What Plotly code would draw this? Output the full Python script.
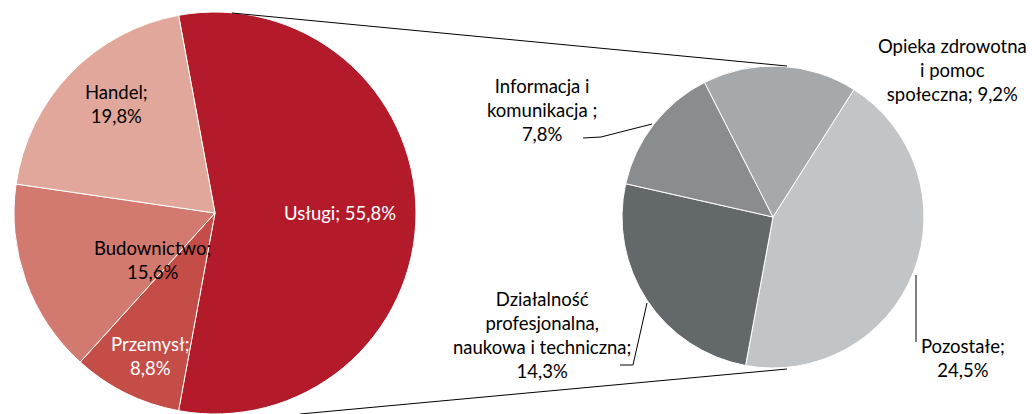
import plotly.graph_objects as go

# Structure of employment: main sectors and the breakdown of services
main_labels = ["Usługi", "Przemysł", "Budownictwo", "Handel"]
main_values = [55.8, 8.8, 15.6, 19.8]
main_colors = ["#B31B2B", "#C44D48", "#D27A6F", "#E0A79A"]

sub_labels = ["Pozostałe", "Działalność profesjonalna, naukowa i techniczna",
              "Informacja i komunikacja", "Opieka zdrowotna i pomoc społeczna"]
sub_values = [24.5, 14.3, 7.8, 9.2]
sub_colors = ["#C2C5C8", "#63686B", "#898D90", "#A6A9AC"]

# how each label is broken into lines ({v} is the value)
main_text = ["Usługi; {v}", "Przemysł;<br>{v}", "Budownictwo;<br>{v}", "Handel;<br>{v}"]
sub_text = ["Pozostałe;<br>{v}", "Działalność<br>profesjonalna,<br>naukowa i techniczna;<br>{v}",
            "Informacja i<br>komunikacja ;<br>{v}", "Opieka zdrowotna<br>i pomoc<br>społeczna; {v}"]

W, H = 1032, 414
FONT = "Lato"
FSIZE = 18.5


def px(x):
    return x / W


def py(y):
    return 1 - y / H


def fmt(v):
    return f"{v:.1f}%".replace(".", ",")


fig = go.Figure()

# left pie: the Usługi slice is centred on the east direction
main_rot = 90 - main_values[0] / sum(main_values) * 180
fig.add_trace(go.Pie(
    labels=main_labels, values=main_values, sort=False, direction="clockwise",
    rotation=main_rot, textinfo="none", hoverinfo="label+value",
    marker=dict(colors=main_colors, line=dict(color="white", width=1)),
    domain=dict(x=[px(14), px(416)], y=[0, 402 / H]),
    showlegend=False,
))

# right pie: breakdown of Usługi
fig.add_trace(go.Pie(
    labels=sub_labels, values=sub_values, sort=False, direction="clockwise",
    rotation=32.4, textinfo="none", hoverinfo="label+value",
    marker=dict(colors=sub_colors, line=dict(color="white", width=1)),
    domain=dict(x=[px(622), px(924)], y=[py(368), py(66)]),
    showlegend=False,
))

# label placement (pixel centres) and colours
main_pos = [(340, 213), (150, 356), (152, 260), (116, 104)]
main_font_col = ["white", "white", "black", "black"]
sub_pos = [(963, 358), (542, 335), (542, 110), (952, 70)]

for tpl, v, (x, y), c in zip(main_text, main_values, main_pos, main_font_col):
    fig.add_annotation(x=px(x), y=py(y), xref="paper", yref="paper",
                       xanchor="center", yanchor="middle",
                       text=tpl.format(v=fmt(v)), showarrow=False,
                       font=dict(family=FONT, size=FSIZE, color=c), align="center")

for tpl, v, (x, y) in zip(sub_text, sub_values, sub_pos):
    fig.add_annotation(x=px(x), y=py(y), xref="paper", yref="paper",
                       xanchor="center", yanchor="middle",
                       text=tpl.format(v=fmt(v)), showarrow=False,
                       font=dict(family=FONT, size=FSIZE, color="black"), align="center")

# connector lines between the two pies and leader lines
segments = [
    [(232, 13), (787, 66)],
    [(300, 414), (787, 369)],
    [(583, 138), (601, 137), (652, 124)],
    [(620, 365), (633, 365), (647, 303)],
    [(916, 275), (916, 342)],
]
for pts in segments:
    for (x0, y0), (x1, y1) in zip(pts[:-1], pts[1:]):
        fig.add_shape(type="line", xref="paper", yref="paper",
                      x0=px(x0), y0=py(y0), x1=px(x1), y1=py(y1),
                      line=dict(color="black", width=1))

fig.update_layout(
    width=W, height=H, margin=dict(l=0, r=0, t=0, b=0),
    paper_bgcolor="white", plot_bgcolor="white",
    font=dict(family=FONT),
)

fig.write_html("out.html")
